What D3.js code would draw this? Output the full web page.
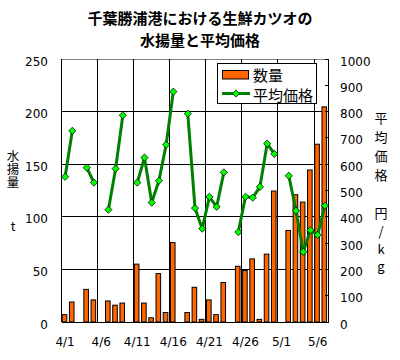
<!DOCTYPE html>
<html><head><meta charset="utf-8">
<script src="https://cdn.jsdelivr.net/npm/d3@7"></script>
<style>body{margin:0;background:#fff} svg{display:block}
.vt{writing-mode:vertical-rl;text-orientation:upright;}</style>
</head><body>
<svg id="c" width="400" height="360"></svg>
<script>
const dates = ["4/1","4/2","4/3","4/4","4/5","4/6","4/7","4/8","4/9","4/10",
  "4/11","4/12","4/13","4/14","4/15","4/16","4/17","4/18","4/19","4/20",
  "4/21","4/22","4/23","4/24","4/25","4/26","4/27","4/28","4/29","4/30",
  "5/1","5/2","5/3","5/4","5/5","5/6","5/7"];
const catchT = [7,19,null,31,21,null,20,16,18,null,
  55,18,4,46,9,75.5,null,9,33,2.5,
  21,7,37.5,null,53,49,60,2.5,64.5,124.5,
  null,87,121,114,144.5,169,204.5];
const price = [552,727,null,587,530,null,427,583,786,null,
  530,625,454,537,674,876,null,792,433,355,
  476,438,569,null,342,476,473,514,678,639,
  null,556,423,267,349,331,442];
const tickDates = ["4/1","4/6","4/11","4/16","4/21","4/26","5/1","5/6"];
const gridDates = ["4/6","4/11","4/16","4/21","4/26","5/1","5/6"];
const leftTicks = [0,50,100,150,200,250];
const rightTicks = [0,100,200,300,400,500,600,700,800,900,1000];
const titleLines = ["千葉勝浦港における生鮮カツオの","水揚量と平均価格"];
const seriesNames = ["数量","平均価格"];
const leftTitle = ["水揚量","t"];
const rightTitle = ["平均価格","円/kg"];

const svg = d3.select("#c");
const numFont = "'DejaVu Sans', sans-serif";
const cjkFont = "'Noto Sans CJK JP', sans-serif";
const L = 61.5, R = 328.5, T = 59, B = 322;

const x = d3.scaleBand().domain(dates).range([L, R]).padding(0);
const yL = d3.scaleLinear().domain([0,250]).range([B, T]);
const yR = d3.scaleLinear().domain([0,1000]).range([B, T]);

svg.append("rect").attr("width",400).attr("height",360).attr("fill","#fff");

svg.append("line").attr("x1",L).attr("x2",R).attr("y1",T).attr("y2",T)
  .attr("stroke","#808080").attr("shape-rendering","crispEdges");

svg.append("g").selectAll("line").data(leftTicks.filter(v=>v>0 && v<250)).join("line")
  .attr("x1",L).attr("x2",R).attr("y1",d=>yL(d)).attr("y2",d=>yL(d))
  .attr("stroke","#000").attr("shape-rendering","crispEdges");
svg.append("g").selectAll("line").data(gridDates).join("line")
  .attr("x1",d=>x(d)).attr("x2",d=>x(d)).attr("y1",T).attr("y2",B)
  .attr("stroke","#000").attr("shape-rendering","crispEdges");

svg.append("g").selectAll("rect").data(dates.map((d,i)=>({d,v:catchT[i]})).filter(o=>o.v!=null)).join("rect")
  .attr("x",o=>x(o.d)+0.7).attr("width",4.6)
  .attr("y",o=>yL(o.v)).attr("height",o=>yL(0)-yL(o.v))
  .attr("fill","#ff6600").attr("stroke","#000").attr("stroke-width",1);

svg.append("line").attr("x1",L).attr("x2",L).attr("y1",T).attr("y2",B).attr("stroke","#000").attr("shape-rendering","crispEdges");
svg.append("line").attr("x1",R).attr("x2",R).attr("y1",T).attr("y2",B).attr("stroke","#000").attr("shape-rendering","crispEdges");
svg.append("line").attr("x1",L).attr("x2",R).attr("y1",B).attr("y2",B).attr("stroke","#000").attr("shape-rendering","crispEdges");

svg.append("g").selectAll("line").data(rightTicks).join("line")
  .attr("x1",R-4).attr("x2",R).attr("y1",d=>yR(d)).attr("y2",d=>yR(d))
  .attr("stroke","#000").attr("shape-rendering","crispEdges");

const cx = d => x(d) + x.bandwidth()/2;
const pts = dates.map((d,i)=>({d,v:price[i]}));
const line = d3.line().defined(o=>o.v!=null).x(o=>cx(o.d)).y(o=>yR(o.v));
svg.append("path").datum(pts).attr("d",line).attr("fill","none")
  .attr("stroke","#008000").attr("stroke-width",3).attr("stroke-linejoin","round");
const diamond = d3.symbol().type(d3.symbolSquare).size(26);
svg.append("g").selectAll("path").data(pts.filter(o=>o.v!=null)).join("path")
  .attr("d",diamond).attr("transform",o=>`translate(${cx(o.d)},${yR(o.v)}) rotate(45)`)
  .attr("fill","#00ff00").attr("stroke","#000").attr("stroke-width",0.7);

svg.append("g").selectAll("text").data(leftTicks).join("text")
  .attr("x",48).attr("y",d=>yL(d)+6.5).attr("text-anchor","end")
  .attr("font-family",numFont).attr("font-size",12).text(d=>d);
svg.append("g").selectAll("text").data(rightTicks).join("text")
  .attr("x",340).attr("y",d=>yR(d)+6.5).attr("text-anchor","start")
  .attr("font-family",numFont).attr("font-size",12).text(d=>d);
svg.append("g").selectAll("text").data(tickDates).join("text")
  .attr("x",d=>cx(d)).attr("y",346).attr("text-anchor","middle")
  .attr("font-family",numFont).attr("font-size",12).text(d=>d);

// title, two lines
svg.append("g").selectAll("text").data(titleLines).join("text")
  .attr("x",200).attr("y",(d,i)=>24+i*21.8).attr("text-anchor","middle")
  .attr("font-family",cjkFont).attr("font-weight","bold").attr("font-size",15)
  .text(d=>d);

// left axis title (vertical)
svg.append("text").attr("class","vt").attr("x",13).attr("y",150)
  .attr("font-family",cjkFont).attr("font-size",12.5)
  .attr("letter-spacing",0.5).text(leftTitle[0]);
svg.append("text").attr("x",13).attr("y",225).attr("text-anchor","middle")
  .attr("dominant-baseline","central").attr("font-family",cjkFont)
  .attr("font-size",12.5).text(leftTitle[1]);

// right axis title (vertical)
svg.append("text").attr("class","vt").attr("x",381).attr("y",111.5)
  .attr("font-family",cjkFont).attr("font-size",13)
  .attr("letter-spacing",6).text(rightTitle[0]);
svg.append("text").attr("class","vt").attr("x",381).attr("y",206.5)
  .attr("font-family",cjkFont).attr("font-size",13)
  .attr("letter-spacing",4.8).text(rightTitle[1]);

// legend
const lg = svg.append("g");
lg.append("rect").attr("x",217.5).attr("y",63.5).attr("width",99).attr("height",40)
  .attr("fill","#fff").attr("stroke","#000");
lg.append("rect").attr("x",222.5).attr("y",70.5).attr("width",26).attr("height",8.5)
  .attr("fill","#ff6600").attr("stroke","#000");
lg.append("line").attr("x1",222).attr("x2",250).attr("y1",93.5).attr("y2",93.5)
  .attr("stroke","#008000").attr("stroke-width",3);
lg.append("path").attr("d",diamond).attr("transform","translate(236,93.5) rotate(45)")
  .attr("fill","#00ff00").attr("stroke","#000").attr("stroke-width",0.7);
lg.selectAll("text.n").data(seriesNames).join("text").attr("class","n")
  .attr("x",253).attr("y",(d,i)=>74+i*20).attr("dominant-baseline","central")
  .attr("font-family",cjkFont).attr("font-size",15).text(d=>d);
</script>
</body></html>
